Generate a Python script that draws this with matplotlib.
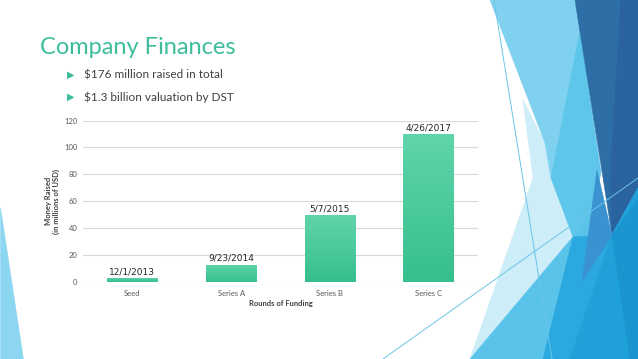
import numpy as np
import matplotlib
matplotlib.use("Agg")
import matplotlib.pyplot as plt
from matplotlib.patches import Polygon
from matplotlib.lines import Line2D

rounds = ["Seed", "Series A", "Series B", "Series C"]
raised = [3, 13, 50, 110]
dates = ["12/1/2013", "9/23/2014", "5/7/2015", "4/26/2017"]
yticks = [0, 20, 40, 60, 80, 100, 120]
bullets = ["$176 million raised in total", "$1.3 billion valuation by DST"]

W, H = 638, 359
teal = "#3cbe9c"
fig = plt.figure(figsize=(W / 100, H / 100), dpi=100)
fig.patch.set_facecolor("white")


def px(pts):
    return [(x / W, 1 - y / H) for x, y in pts]


# slide decoration (facet shapes), pixel coords from top-left
shapes = [
    ("#8dd6f1", [(0, 207), (0, 359), (23, 359)]),
    ("#cdedf9", [(523, 100), (545, 143), (575, 240), (470, 359), (533, 178)]),
    ("#80d1f0", [(490, 0), (575, 0), (580, 30), (551, 178), (545, 143)]),
    ("#5ec5eb", [(580, 30), (601, 172), (593, 213), (573, 237), (551, 178)]),
    ("#2e6ea6", [(575, 0), (638, 0), (638, 188), (612, 235)]),
    ("#2a63a0", [(621, 0), (638, 0), (638, 188), (612, 235), (610, 180)]),
    ("#5ac3ea", [(593, 213), (470, 359), (638, 359), (638, 188), (612, 235)]),
    ("#2aa8df", [(573, 237), (612, 235), (638, 188), (638, 359), (543, 359)]),
    ("#20a0d8", [(612, 235), (570, 359), (638, 359), (638, 188)]),
    ("#1b95cf", [(612, 235), (630, 359), (638, 359), (638, 200)]),
    ("#3b92d0", [(597, 170), (612, 235), (582, 282)]),
]
for color, pts in shapes:
    fig.patches.append(Polygon(px(pts), closed=True, transform=fig.transFigure,
                               facecolor=color, edgecolor=color, lw=0.4, zorder=0))
for (x0, y0), (x1, y1) in [((494, 0), (552, 359)), ((383, 359), (638, 178))]:
    fig.lines.append(Line2D([x0 / W, x1 / W], [1 - y0 / H, 1 - y1 / H],
                            transform=fig.transFigure, color="#6cc5e8", lw=0.7, zorder=1))

# title and bullets
fig.text(40 / W, 1 - 48 / H, "Company Finances", family="Lato", fontsize=17,
         color=teal, va="center", ha="left")
for i, b in enumerate(bullets):
    y = 1 - (75 + 22 * i) / H
    fig.text(67 / W, y, "\u25b6", family=["DejaVu Sans"], fontsize=7, color=teal,
             va="center", ha="left")
    fig.text(84 / W, y, b, family=["Lato", "DejaVu Sans"], fontsize=8.5,
             color="#404040", va="center", ha="left")

# chart
ax = fig.add_axes([83 / W, 77 / H, 395 / W, 161.5 / H])
ax.patch.set_alpha(0)
x = np.arange(len(rounds))
bars = ax.bar(x, raised, width=0.51, color="none", zorder=3)
grad = np.linspace(0, 1, 100).reshape(-1, 1)
cmap = matplotlib.colors.LinearSegmentedColormap.from_list("g", ["#37bf8e", "#5fd5aa"])
for bar in bars:
    x0, y0 = bar.get_x(), bar.get_y()
    im = ax.imshow(grad, extent=[x0, x0 + bar.get_width(), y0, y0 + bar.get_height()],
                   origin="lower", cmap=cmap, aspect="auto", zorder=3)
    im.set_clip_path(bar)
for xi, v, d in zip(x, raised, dates):
    ax.text(xi, v + 1.2, d, ha="center", va="bottom", fontsize=6.5,
            color="#262626", family="DejaVu Sans")

ax.set_xlim(-0.5, len(rounds) - 0.5)
ax.set_ylim(0, 120)
ax.set_xticks(x)
ax.set_xticklabels(rounds)
ax.set_yticks(yticks)
ax.tick_params(length=0, labelsize=5.5, labelcolor="#595959")
ax.tick_params(axis="y", pad=4)
ax.tick_params(axis="x", pad=6)
for lab in ax.get_xticklabels() + ax.get_yticklabels():
    lab.set_family("Lato")
ax.grid(axis="y", color="#d9d9d9", lw=0.8, zorder=0)
for s in ax.spines.values():
    s.set_visible(False)
ax.set_xlabel("Rounds of Funding", fontsize=5.5, color="#404040", family="Lato",
              fontweight="bold", labelpad=2)
ax.set_ylabel("Money Raised\n(in millions of USD)", fontsize=5.5, color="#404040",
              family="Lato", fontweight="bold", labelpad=3)

fig.savefig("out.png", dpi=100)
